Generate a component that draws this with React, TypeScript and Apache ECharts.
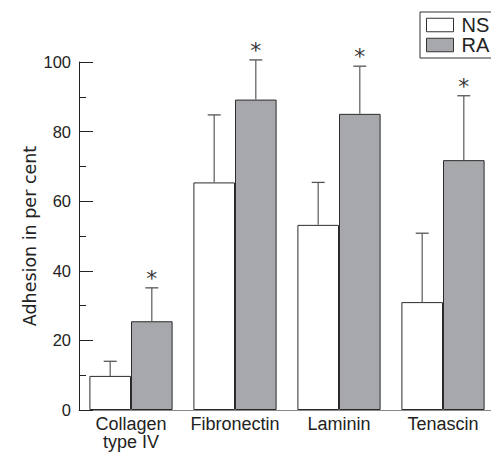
import React, { useEffect, useRef } from 'react';
import * as echarts from 'echarts';

const categories = ['Collagen\ntype IV', 'Fibronectin', 'Laminin', 'Tenascin'];
const seriesNames = ['NS', 'RA'];
const nsMean = [9.8, 65.4, 53.2, 31.0];
const nsUpper = [14.0, 84.8, 65.4, 50.8];
const raMean = [25.5, 89.2, 85.1, 71.8];
const raUpper = [35.1, 100.6, 98.8, 90.3];
const raMarks = ['*', '*', '*', '*'];
const yMin = 0;
const yMax = 100;
const yStep = 20;
const yTitle = 'Adhesion in per cent';

const SANS = "'Liberation Sans', Arial, Helvetica, sans-serif";
const INK = '#222';
const GREY = '#a7a8ac';

function errorSeries(mean: number[], upper: number[], side: number, marks: string[] | null) {
  return {
    type: 'custom',
    z: 5,
    silent: true,
    itemStyle: { color: '#333' },
    data: mean.map((m, i) => [i, m, upper[i], side]),
    renderItem: (params: any, api: any) => {
      const i = api.value(0);
      const m = api.value(1);
      const u = api.value(2);
      const s = api.value(3);
      const band = api.size([1, 0])[0];
      const base = api.coord([i, m]);
      const top = api.coord([i, u]);
      const x = base[0] + s * band * 0.2;
      const children: any[] = [
        { type: 'line', shape: { x1: x, y1: base[1], x2: x, y2: top[1] }, style: { stroke: '#666', lineWidth: 1.3 } },
        { type: 'line', shape: { x1: x - 6.5, y1: top[1], x2: x + 6.5, y2: top[1] }, style: { stroke: '#555', lineWidth: 1.3 } },
      ];
      if (marks && marks[params.dataIndex]) {
        children.push({
          type: 'text',
          x,
          y: top[1] - 9.5,
          style: {
            text: marks[params.dataIndex],
            fontFamily: "'DejaVu Sans', sans-serif",
            fontSize: 22,
            fill: '#3a3a3a',
            align: 'center',
            verticalAlign: 'middle',
          },
        });
      }
      return { type: 'group', children };
    },
  };
}

export default function App() {
  const ref = useRef<HTMLDivElement>(null);
  useEffect(() => {
    if (!ref.current) return;
    const chart = echarts.init(ref.current, undefined, { renderer: 'svg' });
    chart.setOption({
      animation: false,
      backgroundColor: '#fff',
      grid: { left: 79, top: 62, width: 416, height: 348, containLabel: false, outerBoundsMode: 'none' },
      legend: {
        orient: 'vertical',
        left: 420,
        top: 12,
        itemWidth: 27,
        itemHeight: 13.5,
        itemGap: 0,
        padding: [3, 8, 3, 6],
        borderColor: '#333',
        borderWidth: 1,
        borderRadius: 0,
        icon: 'rect',
        textStyle: { fontFamily: SANS, fontSize: 20, lineHeight: 20, color: INK, padding: [0, 0, 0, 3] },
        data: [
          { name: seriesNames[0], itemStyle: { color: '#fff', borderColor: '#333', borderWidth: 1 } },
          { name: seriesNames[1], itemStyle: { color: GREY, borderColor: '#333', borderWidth: 1 } },
        ],
      },
      xAxis: {
        type: 'category',
        data: categories,
        axisLine: { lineStyle: { color: '#888', width: 1 } },
        axisTick: { inside: true, length: 14, lineStyle: { color: '#777', width: 1 } },
        axisLabel: { interval: 0, fontFamily: SANS, fontSize: 18, lineHeight: 18, color: INK, margin: 5, hideOverlap: false },
        splitLine: { show: false },
      },
      yAxis: {
        type: 'value',
        min: yMin,
        max: yMax,
        interval: yStep,
        name: yTitle,
        nameLocation: 'middle',
        nameGap: 40,
        nameMoveOverlap: false,
        nameTextStyle: { fontFamily: "'DejaVu Sans', sans-serif", fontSize: 17.5, color: INK },
        axisLine: { show: true, lineStyle: { color: '#222', width: 1 } },
        axisTick: { show: true, inside: true, length: 14, lineStyle: { color: '#222', width: 1 } },
        minorTick: { show: true, splitNumber: 2, length: 7, lineStyle: { color: '#222', width: 1 } },
        axisLabel: { fontFamily: SANS, fontSize: 16.5, color: INK, margin: 8 },
        splitLine: { show: false },
        minorSplitLine: { show: false },
      },
      series: [
        {
          name: seriesNames[0],
          type: 'bar',
          data: nsMean,
          barGap: '0%',
          barCategoryGap: '20%',
          itemStyle: { color: '#fff', borderColor: '#2b2b2b', borderWidth: 1 },
        },
        {
          name: seriesNames[1],
          type: 'bar',
          data: raMean,
          barGap: '0%',
          barCategoryGap: '20%',
          itemStyle: { color: GREY, borderColor: '#2b2b2b', borderWidth: 1 },
        },
        errorSeries(nsMean, nsUpper, -1, null),
        errorSeries(raMean, raUpper, 1, raMarks),
      ],
    });
    return () => chart.dispose();
  }, []);
  return <div ref={ref} style={{ position: 'absolute', left: 0, top: 0, width: 491, height: 452 }} />;
}
